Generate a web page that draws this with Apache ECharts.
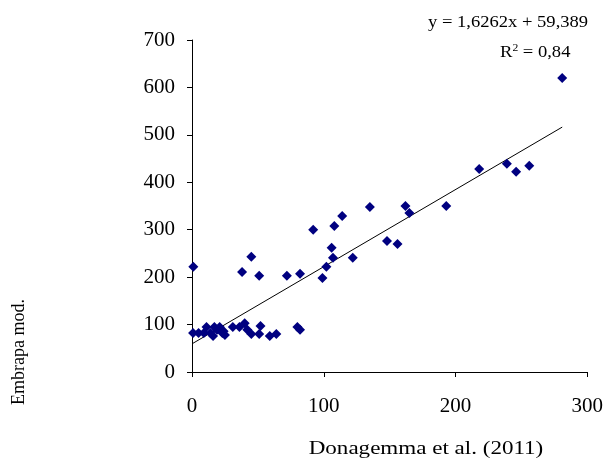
<!DOCTYPE html>
<html>
<head>
<meta charset="utf-8">
<script src="https://cdn.jsdelivr.net/npm/echarts@6/dist/echarts.min.js"></script>
<style>
  html, body { margin: 0; padding: 0; background: #fff; }
  #chart { width: 606px; height: 461px; }
</style>
</head>
<body>
<div id="chart"></div>
<script>
// Observed values: Donagemma et al. (2011) on x, Embrapa mod. on y
const xValues = [
  0.8, 5, 9, 11, 14, 16, 17, 19, 21, 23, 24, 25, 31, 36, 40, 42, 45, 52, 51, 59, 64, 80, 82,
  1, 38, 45, 51, 72, 82, 92, 99, 102, 106, 107, 108, 114, 122, 135, 148, 156, 162, 165, 193,
  218, 239, 246, 256, 281
];
const yValues = [
  82, 82, 82, 95, 82, 76, 95, 89, 95, 82, 86, 78, 95, 95, 103, 89, 80, 97, 80, 76, 80, 95, 89,
  222, 211, 243, 203, 203, 207, 300, 198, 222, 262, 241, 308, 329, 241, 348, 276, 270, 350, 335, 350,
  428, 439, 422, 435, 620
];

// Linear fit reported on the chart
const fitSlope = 1.6262;
const fitIntercept = 59.389;
const fitR2 = 0.84;

const xTicks = [0, 100, 200, 300];
const yTicks = [0, 100, 200, 300, 400, 500, 600, 700];

const fmt = (v, d) => v.toFixed(d).replace('.', ',');

const points = xValues.map((x, i) => [x, yValues[i]]);
const xMaxData = Math.max(...xValues);
const fitLine = [0, xMaxData].map(x => [x, fitSlope * x + fitIntercept]);

const serif = '"Liberation Serif", "Times New Roman", serif';

const chart = echarts.init(document.getElementById('chart'), null, { renderer: 'canvas' });
chart.setOption({
  animation: false,
  backgroundColor: '#ffffff',
  grid: { left: 192, top: 40, right: 18, bottom: 89 },
  xAxis: {
    type: 'value',
    min: xTicks[0],
    max: xTicks[xTicks.length - 1],
    interval: 100,
    axisLine: { lineStyle: { color: '#000', width: 1 } },
    axisTick: { show: true, length: 5, inside: false, lineStyle: { color: '#000' } },
    axisLabel: { color: '#000', fontFamily: serif, fontSize: 21, margin: 24 },
    splitLine: { show: false }
  },
  yAxis: {
    type: 'value',
    min: yTicks[0],
    max: yTicks[yTicks.length - 1],
    interval: 100,
    axisLine: { show: true, lineStyle: { color: '#000', width: 1 } },
    axisTick: { show: true, length: 5, inside: false, lineStyle: { color: '#000' } },
    axisLabel: { color: '#000', fontFamily: serif, fontSize: 21, margin: 17 },
    splitLine: { show: false }
  },
  series: [
    {
      type: 'line',
      data: fitLine,
      symbol: 'none',
      lineStyle: { color: '#000', width: 1 },
      silent: true,
      z: 1
    },
    {
      type: 'scatter',
      data: points,
      symbol: 'path://M0,-1L1,0L0,1L-1,0Z',
      symbolSize: 10,
      itemStyle: { color: '#000080', opacity: 1 },
      z: 2
    }
  ],
  graphic: [
    {
      type: 'text',
      x: 428,
      y: 23,
      scaleX: 1.16,
      style: {
        text: 'y = ' + fmt(fitSlope, 4) + 'x + ' + fmt(fitIntercept, 3),
        font: '16px ' + serif,
        fill: '#000',
        align: 'left',
        verticalAlign: 'middle'
      }
    },
    {
      type: 'text',
      x: 500,
      y: 52,
      scaleX: 1.16,
      style: {
        text: '{b|R}{s|2}{b| = ' + fmt(fitR2, 2) + '}',
        align: 'left',
        verticalAlign: 'middle',
        rich: {
          b: { font: '16px ' + serif, fill: '#000', verticalAlign: 'bottom' },
          s: { font: '10px ' + serif, fill: '#000', verticalAlign: 'top', padding: [0, 0, 8, 0] }
        }
      }
    },
    {
      type: 'text',
      x: 426,
      y: 449,
      scaleX: 1.28,
      style: {
        text: 'Donagemma et al. (2011)',
        font: '18px ' + serif,
        fill: '#000',
        align: 'center',
        verticalAlign: 'middle'
      }
    },
    {
      type: 'text',
      x: 19,
      y: 352,
      rotation: Math.PI / 2,
      style: {
        text: 'Embrapa mod.',
        font: '18px ' + serif,
        fill: '#000',
        align: 'center',
        verticalAlign: 'middle'
      }
    }
  ]
});
</script>
</body>
</html>
